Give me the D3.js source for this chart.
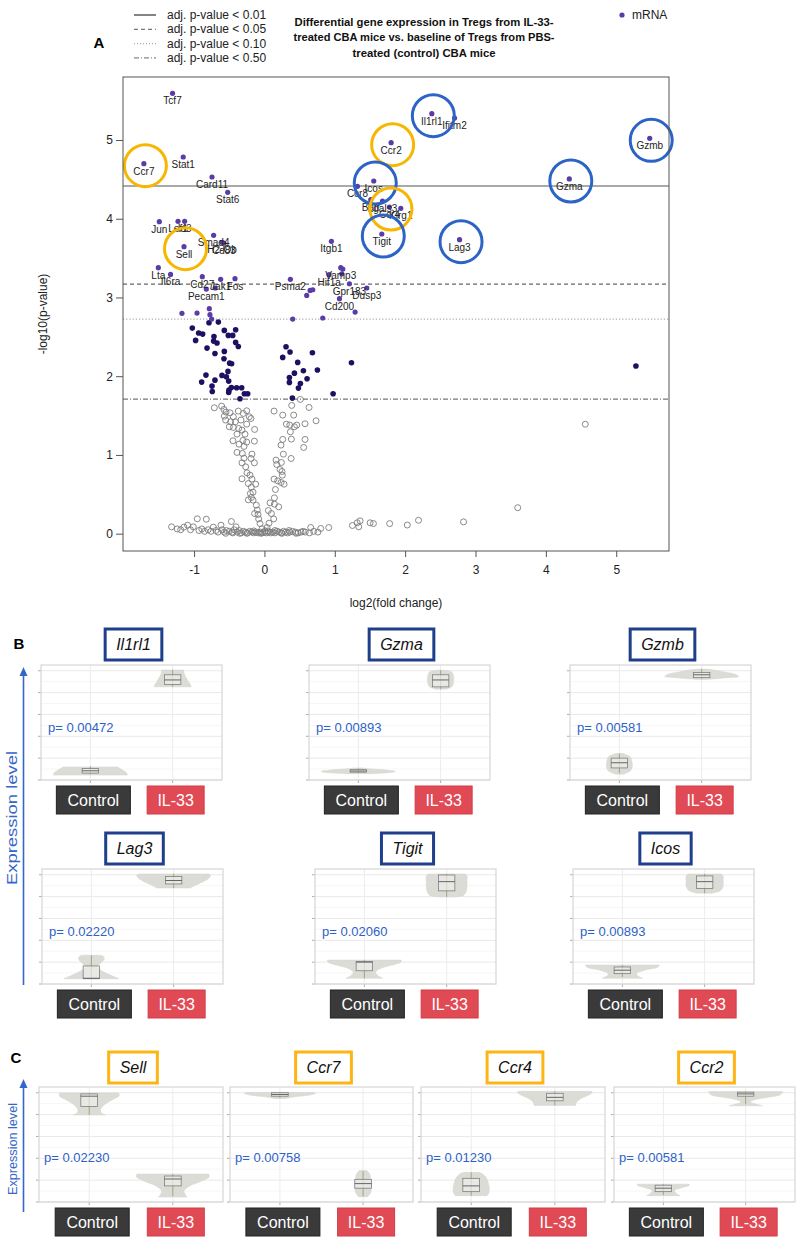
<!DOCTYPE html>
<html><head><meta charset="utf-8">
<script src="https://cdn.jsdelivr.net/npm/d3@7"></script>
<style>body{margin:0;background:#fff}svg{display:block}</style>
</head><body>
<svg id="c" width="800" height="1244"></svg>
<script>
// ---------------- DATA: volcano plot ----------------
const titleLines = ["Differential gene expression in Tregs from IL-33-","treated CBA mice vs. baseline of Tregs from PBS-","treated (control) CBA mice"];
const thresholdLabels = ["adj. p-value < 0.01","adj. p-value < 0.05","adj. p-value < 0.10","adj. p-value < 0.50"];
const thresholdValues = [4.415, 3.17, 2.725, 1.71];
const xTicks = [-1,0,1,2,3,4,5];
const yTicks = [0,1,2,3,4,5];

const labGenes = ["Tcf7","Ccr7","Stat1","Card11","Stat6","Jun","Lef1","Id3","Smad4","H2-Ob","Cd83","Sell","Lta","Il6ra","Cd27","Pecam1","Jak1","Fos","Psma2","Itgb1","Vamp3","Hif1a","Gpr183","Dusp3","Cd200","Il1rl1","Ifitm2","Ccr2","Gzmb","Icos","Ccr8","Gzma","Batf","Lgals3","Ccr4","Klrg1","Tigit","Lag3"];
const labLfc = [-1.306,-1.713,-1.154,-0.745,-0.522,-1.494,-1.228,-1.134,-0.722,-0.603,-0.575,-1.143,-1.508,-1.334,-0.883,-0.826,-0.622,-0.418,0.369,0.952,1.085,0.919,1.208,1.455,1.066,2.379,2.702,1.801,5.476,1.554,1.322,4.333,1.511,1.678,1.777,1.938,1.668,2.773];
const labLogp = [5.593,4.699,4.784,4.530,4.335,3.963,3.967,3.967,3.789,3.700,3.690,3.645,3.378,3.293,3.264,3.107,3.230,3.239,3.230,3.713,3.378,3.289,3.174,3.120,2.984,5.334,5.279,4.966,5.021,4.479,4.411,4.505,4.242,4.225,4.149,4.132,3.806,3.734];
const purplePts = [[1.114,3.361],[0.601,3.026],[0.649,3.090],[0.687,3.098],[1.289,2.814],[0.829,2.739],[0.402,2.726],[-1.172,2.798],[-0.958,2.802],[-0.783,2.857],[-0.774,2.781],[-0.750,2.726],[1.10,3.30],[-0.70,3.12]];
const navyPts = [[-0.788,2.679],[-0.655,2.687],[-1.025,2.611],[-0.935,2.548],[-0.878,2.535],[-0.978,2.455],[-0.717,2.505],[-0.570,2.582],[-0.409,2.590],[-0.513,2.518],[-0.451,2.518],[-0.722,2.446],[-0.674,2.421],[-0.816,2.357],[-0.703,2.289],[-0.570,2.315],[-0.371,2.378],[-0.409,2.429],[-0.575,2.221],[-0.494,2.166],[-0.466,2.158],[-0.518,2.061],[-0.603,2.010],[-0.541,1.993],[-0.508,1.938],[-0.831,2.014],[-0.892,1.925],[-0.703,1.950],[-0.745,1.874],[-0.741,1.806],[-0.504,1.823],[-0.508,1.794],[-0.470,1.857],[-0.395,1.853],[-0.323,1.853],[-0.285,1.777],[-0.238,1.777],[-0.347,1.714],
[0.307,2.374],[0.364,2.307],[0.260,2.239],[0.682,2.298],[0.473,2.175],[0.355,1.984],[0.426,2.039],[0.554,2.069],[0.606,1.968],[0.355,1.921],[0.511,1.908],[0.483,1.849],[0.753,2.078],[0.976,1.777],[0.397,1.722],[1.237,2.171],[5.28,2.13]];
const grayPts = [[-0.712,1.599],[-0.608,1.620],[-0.575,1.578],[-0.546,1.544],[-0.570,1.493],[-0.489,1.535],[-0.442,1.485],[-0.371,1.557],[-0.300,1.527],[-0.252,1.561],[-0.215,1.485],[-0.551,1.443],[-0.480,1.421],[-0.414,1.421],[-0.333,1.443],[-0.499,1.358],[-0.442,1.349],[-0.366,1.336],[-0.252,1.391],[-0.191,1.463],[-0.319,1.315],[-0.276,1.264],[-0.139,1.324],[-0.390,1.264],[-0.447,1.180],[-0.361,1.137],[-0.305,1.184],[-0.290,1.108],[-0.252,1.163],[-0.143,1.175],[-0.314,1.019],[-0.390,1.032],[-0.177,1.010],[-0.290,0.959],[-0.191,0.955],[-0.319,0.900],[-0.143,0.900],[-0.266,0.849],[-0.248,0.773],[-0.319,0.697],[-0.205,0.743],[-0.177,0.693],[-0.229,0.637],[-0.124,0.629],[-0.186,0.591],[-0.162,0.527],[-0.200,0.510],[-0.186,0.460],[-0.162,0.426],[-0.229,0.430],[-0.115,0.362],[-0.101,0.299],[-0.091,0.244],[-0.139,0.256],[-0.082,0.188],[-0.063,0.129],[-0.034,0.061],
[0.137,1.557],[0.260,1.506],[0.388,1.629],[0.511,1.705],[0.634,1.603],[0.734,1.434],[0.577,1.396],[0.416,1.506],[0.426,1.358],[0.312,1.391],[0.360,1.379],[0.459,1.379],[0.369,1.294],[0.383,1.201],[0.260,1.197],[0.236,1.125],[0.577,1.197],[0.558,1.095],[0.379,0.955],[0.165,0.934],[0.175,0.879],[0.269,1.010],[0.241,0.904],[0.222,0.815],[0.250,0.790],[0.255,0.743],[0.137,0.693],[0.189,0.671],[0.236,0.650],[0.279,0.629],[0.156,0.561],[0.142,0.455],[0.080,0.392],[0.142,0.375],[0.203,0.341],[0.056,0.294],[0.099,0.256],[0.132,0.188],[0.065,0.133],[0.037,0.078],[0.009,0.036],
[-1.32,0.087],[-1.24,0.06],[-1.19,0.05],[-1.144,0.083],[-1.092,0.108],[-1.05,0.05],[-1.011,0.087],[-0.954,0.189],[-0.93,0.04],[-0.89,0.06],[-0.85,0.03],[-0.826,0.184],[-0.80,0.05],[-0.76,0.03],[-0.726,0.083],[-0.69,0.04],[-0.66,0.02],[-0.617,0.108],[-0.60,0.05],[-0.57,0.02],[-0.54,0.04],[-0.50,0.03],[-0.470,0.155],[-0.46,0.02],[-0.43,0.05],[-0.404,0.087],[-0.39,0.02],[-0.36,0.04],[-0.33,0.01],[-0.30,0.03],[-0.27,0.02],[-0.24,0.01],[-0.21,0.03],[-0.18,0.02],[-0.15,0.01],[-0.12,0.02],[-0.09,0.01],[-0.06,0.02],[-0.03,0.01],[0.0,0.015],[0.03,0.01],[0.06,0.02],[0.09,0.01],[0.12,0.02],[0.15,0.01],[0.18,0.03],[0.21,0.02],[0.24,0.01],[0.27,0.03],[0.30,0.02],[0.33,0.01],[0.36,0.02],[0.40,0.03],[0.44,0.02],[0.48,0.01],[0.52,0.02],[0.58,0.02],[0.64,0.01],[0.658,0.078],[0.70,0.03],[0.76,0.02],[0.800,0.066],[0.914,0.078],[1.251,0.104],[1.318,0.138],[1.360,0.163],[1.341,0.087],[1.502,0.138],[1.549,0.129],[1.78,0.128],[2.03,0.11],[2.19,0.17],[2.83,0.15],[3.60,0.33],[4.56,1.39],
[-0.55,0.005],[-0.45,0.01],[-0.35,0.005],[-0.25,0.005],[-0.15,0.035],[-0.05,0.005],[0.05,0.035],[0.15,0.04],[0.25,0.005],[0.35,0.04],[0.45,0.005],[0.55,0.03]];
const blueCircled = ["Il1rl1","Icos","Tigit","Lag3","Gzma","Gzmb"];
const orangeCircled = ["Ccr7","Sell","Ccr2","Ccr4"];

// ---------------- DATA: violin panels ----------------
const groups = ["Control","IL-33"];
const genesB = ["Il1rl1","Gzma","Gzmb","Lag3","Tigit","Icos"];
const pValsB = ["0.00472","0.00893","0.00581","0.02220","0.02060","0.00893"];
const genesC = ["Sell","Ccr7","Ccr4","Ccr2"];
const pValsC = ["0.02230","0.00758","0.01230","0.00581"];
const gridValues = [0.0,0.19,0.38,0.57,0.76,0.95];
// violin profiles: [expression (relative), half-width (relative)]; boxes: [min,q1,median,q3,max]
const il1rl1Ctrl = [[0.043,1.0],[0.06,0.98],[0.08,0.9],[0.10,0.8],[0.113,0.74]];
const il1rl1IL33 = [[0.81,0.5],[0.83,0.48],[0.87,0.4],[0.91,0.33],[0.94,0.3],[0.957,0.3]];
const il1rl1Box = [[0.05,0.06,0.08,0.10,0.12],[0.81,0.83,0.87,0.915,0.957]];
const gzmaCtrl = [[0.055,0.35],[0.065,0.85],[0.075,1.0],[0.085,0.8],[0.095,0.4],[0.105,0.1]];
const gzmaIL33 = [[0.79,0.15],[0.81,0.3],[0.85,0.35],[0.90,0.35],[0.94,0.3],[0.955,0.1]];
const gzmaBox = [[0.06,0.068,0.078,0.09,0.10],[0.79,0.81,0.87,0.915,0.955]];
const gzmbCtrl = [[0.05,0.1],[0.08,0.3],[0.12,0.35],[0.17,0.33],[0.20,0.3],[0.23,0.1]];
const gzmbIL33 = [[0.875,0.15],[0.89,0.7],[0.90,1.0],[0.92,0.9],[0.94,0.6],[0.96,0.25],[0.965,0.05]];
const gzmbBox = [[0.06,0.105,0.15,0.19,0.23],[0.88,0.89,0.915,0.935,0.965]];
const lag3Ctrl = [[0.046,0.74],[0.08,0.5],[0.12,0.25],[0.15,0.15],[0.18,0.25],[0.22,0.35],[0.245,0.3],[0.25,0.05]];
const lag3IL33 = [[0.835,0.45],[0.86,0.6],[0.89,0.8],[0.92,0.95],[0.945,1.0],[0.957,0.95]];
const lag3Box = [[0.046,0.046,0.05,0.157,0.25],[0.835,0.87,0.90,0.935,0.957]];
const tigitCtrl = [[0.05,0.5],[0.07,0.38],[0.10,0.3],[0.13,0.4],[0.16,0.7],[0.19,0.98],[0.208,1.0]];
const tigitIL33 = [[0.757,0.2],[0.77,0.45],[0.80,0.52],[0.85,0.55],[0.90,0.55],[0.94,0.55],[0.957,0.5]];
const tigitBox = [[0.05,0.115,0.19,0.195,0.208],[0.757,0.81,0.89,0.948,0.957]];
const icosCtrl = [[0.05,0.55],[0.07,0.42],[0.09,0.38],[0.12,0.6],[0.145,0.95],[0.165,1.0]];
const icosIL33 = [[0.79,0.2],[0.81,0.42],[0.85,0.5],[0.90,0.5],[0.94,0.5],[0.957,0.45]];
const icosBox = [[0.06,0.09,0.12,0.148,0.165],[0.79,0.83,0.89,0.94,0.957]];
const sellCtrl = [[0.757,0.42],[0.775,0.32],[0.80,0.3],[0.84,0.38],[0.89,0.62],[0.925,0.8],[0.948,0.78]];
const sellIL33 = [[0.043,0.38],[0.07,0.32],[0.10,0.3],[0.14,0.45],[0.18,0.75],[0.22,0.97],[0.243,0.95]];
const sellBox = [[0.757,0.83,0.92,0.94,0.948],[0.05,0.14,0.20,0.226,0.243]];
const ccr7Ctrl = [[0.90,0.15],[0.915,0.4],[0.93,0.8],[0.945,0.95],[0.953,0.9]];
const ccr7IL33 = [[0.046,0.12],[0.08,0.2],[0.12,0.22],[0.16,0.22],[0.20,0.2],[0.24,0.18],[0.273,0.1]];
const ccr7Box = [[0.905,0.92,0.935,0.95,0.953],[0.05,0.12,0.16,0.197,0.27]];
const ccr4Ctrl = [[0.055,0.42],[0.08,0.47],[0.12,0.48],[0.17,0.45],[0.21,0.4],[0.24,0.32],[0.258,0.2]];
const ccr4IL33 = [[0.84,0.55],[0.87,0.58],[0.90,0.7],[0.93,0.9],[0.955,1.0],[0.963,0.95]];
const ccr4Box = [[0.055,0.09,0.14,0.206,0.258],[0.84,0.88,0.91,0.945,0.963]];
const ccr2Ctrl = [[0.055,0.45],[0.075,0.35],[0.10,0.3],[0.125,0.5],[0.145,0.7],[0.155,0.7]];
const ccr2IL33 = [[0.836,0.45],[0.85,0.3],[0.87,0.12],[0.89,0.25],[0.91,0.6],[0.935,0.95],[0.96,1.0]];
const ccr2Box = [[0.06,0.09,0.12,0.146,0.155],[0.85,0.92,0.94,0.955,0.96]];

const violinsB = [[il1rl1Ctrl,il1rl1IL33,il1rl1Box],[gzmaCtrl,gzmaIL33,gzmaBox],[gzmbCtrl,gzmbIL33,gzmbBox],[lag3Ctrl,lag3IL33,lag3Box],[tigitCtrl,tigitIL33,tigitBox],[icosCtrl,icosIL33,icosBox]];
const violinsC = [[sellCtrl,sellIL33,sellBox],[ccr7Ctrl,ccr7IL33,ccr7Box],[ccr4Ctrl,ccr4IL33,ccr4Box],[ccr2Ctrl,ccr2IL33,ccr2Box]];

// ---------------- DRAWING ----------------
const FONT = "'Liberation Sans', Arial, sans-serif";
const NARROW = "'Liberation Sans Narrow', 'Arial Narrow', 'Liberation Sans', sans-serif";
const svg = d3.select("#c");
const BLUE_C = "#2c63c6", ORANGE_C = "#f7b600", PURPLE = "#5a3ca6", NAVY = "#1c1060";

// Panel A header
svg.append("text").attr("x",99).attr("y",48).attr("font-family",FONT).attr("font-weight","bold").attr("font-size",15).attr("text-anchor","middle").text("A");
const legDash = [null,"4,3","1,2","5,2,1,2"];
const legCol = ["#333","#777","#aaa","#888"];
thresholdLabels.forEach((t,i)=>{
  const yy = 15 + i*14.3;
  svg.append("line").attr("x1",134).attr("x2",156).attr("y1",yy).attr("y2",yy).attr("stroke",legCol[i]).attr("stroke-width",1.2).attr("stroke-dasharray",legDash[i]);
  svg.append("text").attr("x",167).attr("y",yy+4).attr("font-family",FONT).attr("font-size",12).attr("fill","#222").text(t);
});
const tW = [259,261,143];
titleLines.forEach((t,i)=>{
  svg.append("text").attr("x",424).attr("y",[26,41,57][i]).attr("text-anchor","middle").attr("font-family",FONT).attr("font-weight","bold").attr("font-size",11.5).attr("fill","#111")
    .attr("textLength",tW[i]).attr("lengthAdjust","spacingAndGlyphs").text(t);
});
svg.append("circle").attr("cx",622).attr("cy",15).attr("r",2.6).attr("fill",PURPLE);
svg.append("text").attr("x",632).attr("y",19).attr("font-family",FONT).attr("font-size",12).attr("fill","#222").text("mRNA");

// Volcano
const x = d3.scaleLinear().domain([-2.01,5.75]).range([123,669]);
const y = d3.scaleLinear().domain([-0.22,5.8]).range([551,77]);
const gA = svg.append("g");
const thrDash = [null,"4,3","1.2,2","5,2,1,2"];
const thrCol = ["#555","#666","#aaa","#777"];
thresholdValues.forEach((v,i)=>{
  gA.append("line").attr("x1",x.range()[0]).attr("x2",x.range()[1]).attr("y1",y(v)).attr("y2",y(v))
    .attr("stroke",thrCol[i]).attr("stroke-width",i==0?1.1:1.2).attr("stroke-dasharray",thrDash[i]);
});
gA.selectAll(".gp").data(grayPts).join("circle").attr("cx",d=>x(d[0])).attr("cy",d=>y(d[1])).attr("r",3)
  .attr("fill","none").attr("stroke","#7d7d7d").attr("stroke-width",0.9);
gA.selectAll(".np").data(navyPts).join("circle").attr("cx",d=>x(d[0])).attr("cy",d=>y(d[1])).attr("r",2.8).attr("fill",NAVY);
gA.selectAll(".pp").data(purplePts).join("circle").attr("cx",d=>x(d[0])).attr("cy",d=>y(d[1])).attr("r",2.6).attr("fill",PURPLE);
const labData = labGenes.map((g,i)=>({g, lfc:labLfc[i], lp:labLogp[i]}));
gA.selectAll(".lp").data(labData).join("circle").attr("cx",d=>x(d.lfc)).attr("cy",d=>y(d.lp)).attr("r",2.6).attr("fill",PURPLE);
gA.selectAll(".lt").data(labData).join("text").attr("x",d=>x(d.lfc)).attr("y",d=>y(d.lp)+11)
  .attr("text-anchor","middle").attr("font-family",FONT).attr("font-size",10).attr("fill","#222").text(d=>d.g);
const circ = labData.filter(d=>blueCircled.includes(d.g)||orangeCircled.includes(d.g));
gA.selectAll(".hc").data(circ).join("circle").attr("cx",d=>x(d.lfc)+1.5).attr("cy",d=>y(d.lp)+2).attr("r",21)
  .attr("fill","none").attr("stroke-width",3).attr("stroke",d=>blueCircled.includes(d.g)?BLUE_C:ORANGE_C);

// box + axes
gA.append("rect").attr("x",123).attr("y",77).attr("width",546).attr("height",474).attr("fill","none").attr("stroke","#555").attr("stroke-width",1);
const xa = gA.append("g").attr("transform","translate(0,551)").call(d3.axisBottom(x).tickValues(xTicks).tickSize(6).tickPadding(8).tickFormat(d=>String(d)));
const ya = gA.append("g").attr("transform","translate(123,0)").call(d3.axisLeft(y).tickValues(yTicks).tickSize(7).tickPadding(3).tickFormat(d=>String(d)));
[xa,ya].forEach(a=>{a.select(".domain").remove(); a.selectAll("line").attr("stroke","#555"); a.selectAll("text").attr("font-family",FONT).attr("font-size",12).attr("fill","#222");});
gA.append("text").attr("transform","translate(47,314) rotate(-90)").attr("text-anchor","middle").attr("font-family",FONT).attr("font-size",12).attr("fill","#222").text("-log10(p-value)");
gA.append("text").attr("x",396).attr("y",607).attr("text-anchor","middle").attr("font-family",FONT).attr("font-size",12).attr("fill","#222").text("log2(fold change)");

// ---------- violin panels ----------
function panel(L, T, W, H, gene, pval, vio, boxColor, boxTopOff, pYOff, pXOff){
  const g = svg.append("g");
  const xs = d3.scalePoint().domain(groups).range([L, L+W]).padding(0.6);
  const ys = d3.scaleLinear().domain([0,1]).range([T+H, T]);
  const step = xs.step();
  g.append("rect").attr("x",L).attr("y",T).attr("width",W).attr("height",H).attr("fill","#fff");
  for(let i=0;i<gridValues.length-1;i++){
    const m = (gridValues[i]+gridValues[i+1])/2;
    g.append("line").attr("x1",L).attr("x2",L+W).attr("y1",ys(m)).attr("y2",ys(m)).attr("stroke","#f4f4f4").attr("stroke-width",0.8);
  }
  gridValues.forEach(v=>{
    g.append("line").attr("x1",L).attr("x2",L+W).attr("y1",ys(v)).attr("y2",ys(v)).attr("stroke","#e9e9e9").attr("stroke-width",1);
    g.append("line").attr("x1",L-3).attr("x2",L).attr("y1",ys(v)).attr("y2",ys(v)).attr("stroke","#999").attr("stroke-width",0.8);
  });
  groups.forEach(c=>{
    g.append("line").attr("x1",xs(c)).attr("x2",xs(c)).attr("y1",T).attr("y2",T+H).attr("stroke","#ececec").attr("stroke-width",1);
    g.append("line").attr("x1",xs(c)).attr("x2",xs(c)).attr("y1",T+H).attr("y2",T+H+3).attr("stroke","#999").attr("stroke-width",0.8);
  });
  g.append("rect").attr("x",L).attr("y",T).attr("width",W).attr("height",H).attr("fill","none").attr("stroke","#d6d6d6").attr("stroke-width",1.2);
  const half = 0.45*step;
  [vio[0],vio[1]].forEach((prof,k)=>{
    const cx = xs(groups[k]);
    const area = d3.area().y(d=>ys(d[0])).x0(d=>cx-d[1]*half).x1(d=>cx+d[1]*half).curve(d3.curveCatmullRom);
    g.append("path").attr("d",area(prof)).attr("fill","#dcdcd7").attr("stroke","#d2d2cc").attr("stroke-width",0.5);
    const b = vio[2][k];
    const bw = 0.1*step;
    g.append("line").attr("x1",cx).attr("x2",cx).attr("y1",ys(b[0])).attr("y2",ys(b[4])).attr("stroke","#8a9a6a").attr("stroke-width",0.8);
    g.append("rect").attr("x",cx-bw).attr("y",ys(b[3])).attr("width",2*bw).attr("height",Math.max(1,ys(b[1])-ys(b[3])))
      .attr("fill","#ececea").attr("fill-opacity",0.7).attr("stroke","#7e7e7e").attr("stroke-width",0.8);
    g.append("line").attr("x1",cx-bw).attr("x2",cx+bw).attr("y1",ys(b[2])).attr("y2",ys(b[2])).attr("stroke","#666").attr("stroke-width",1);
  });
  g.append("text").attr("x",L+pXOff).attr("y",T+pYOff).attr("font-family",NARROW).attr("font-size",13).attr("fill","#2d62c8").text("p= "+pval);
  const tt = g.append("text").attr("x",L+W/2+2).attr("y",T-boxTopOff+21).attr("text-anchor","middle").attr("font-family",NARROW)
     .attr("font-style","italic").attr("font-size",16).attr("fill","#111").text(gene);
  const tw = tt.node().getComputedTextLength();
  g.insert("rect","text").attr("x",L+W/2+2-tw/2-11).attr("y",T-boxTopOff).attr("width",tw+22).attr("height",31)
    .attr("fill","#fff").attr("stroke",boxColor).attr("stroke-width",3);
  const by = T+H+6;
  const btnW = [74,57], btnFill=["#3a3a3a","#e04a54"], btnStroke=["#222","#d33c46"];
  groups.forEach((c,k)=>{
    const cx = xs(c)+3;
    g.append("rect").attr("x",cx-btnW[k]/2).attr("y",by).attr("width",btnW[k]).attr("height",28).attr("fill",btnFill[k]).attr("stroke",btnStroke[k]).attr("stroke-width",1);
    g.append("text").attr("x",cx).attr("y",by+19.5).attr("text-anchor","middle").attr("font-family",NARROW).attr("font-size",16).attr("fill","#fff").text(c);
  });
}

svg.append("text").attr("x",19).attr("y",649).attr("text-anchor","middle").attr("font-family",FONT).attr("font-weight","bold").attr("font-size",15).text("B");
svg.append("text").attr("x",16).attr("y",1063).attr("text-anchor","middle").attr("font-family",FONT).attr("font-weight","bold").attr("font-size",15).text("C");

const rowLefts = [[41,309,570],[42,315,573]];
const rowTops = [665,869];
genesB.forEach((gname,i)=>{
  const r = Math.floor(i/3), c = i%3;
  panel(rowLefts[r][c], rowTops[r], 181, 115, gname, pValsB[i], violinsB[i], "#1f3f8c", 36, 67, 7);
});
const cLefts = [39,230,421,614], cW = [184,183,184,181];
genesC.forEach((gname,i)=>{
  panel(cLefts[i], 1087, cW[i], 115, gname, pValsC[i], violinsC[i], "#fdb515", 35, 75, 5);
});

function arrow(x0, yTop, yBot, cy, len, fs){
  svg.append("line").attr("x1",x0).attr("x2",x0).attr("y1",yTop+8).attr("y2",yBot).attr("stroke","#3566c8").attr("stroke-width",1.6);
  svg.append("path").attr("d",`M${x0-4},${yTop+9} L${x0},${yTop} L${x0+4},${yTop+9} Z`).attr("fill","#3566c8");
  svg.append("text").attr("transform",`translate(${x0-7},${cy}) rotate(-90)`).attr("text-anchor","middle").attr("font-family",FONT)
    .attr("font-size",fs).attr("fill","#3566c8").attr("textLength",len).attr("lengthAdjust","spacingAndGlyphs").text("Expression level");
}
arrow(23.5, 667, 985, 818, 134, 15);
arrow(23.5, 1079, 1212, 1149, 92, 13);
</script></body></html>
